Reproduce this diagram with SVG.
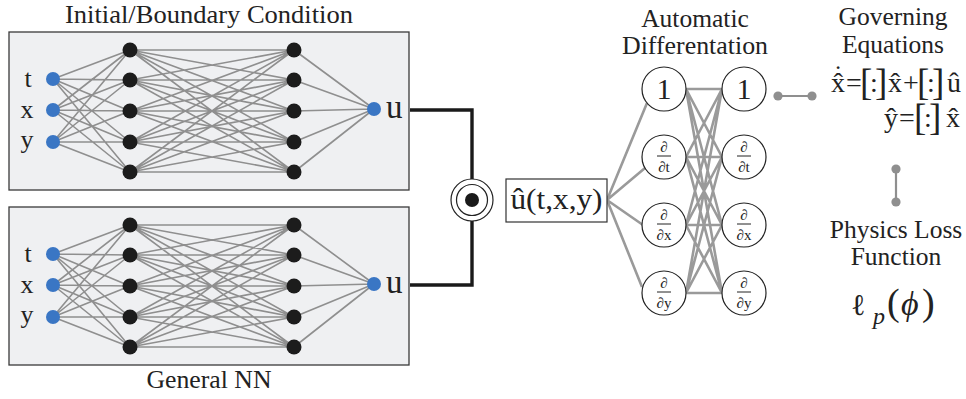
<svg xmlns="http://www.w3.org/2000/svg" width="966" height="399" viewBox="0 0 966 399">
  <style>
    .lbl { font-family: "Liberation Serif", "Times New Roman", serif; fill: #222; }
    .nnbox { fill: #eff0f2; stroke: #3a3a3a; stroke-width: 1.3; }
    .hid { fill: #1c1c1c; }
    .inp { fill: #3a76c4; }
    .nnedge { fill: none; stroke: #8f8f8f; stroke-width: 1.6; }
    .adedge { fill: none; stroke: #9a9a9a; stroke-width: 2.6; }
    .wire { fill: none; stroke: #1a1a1a; stroke-width: 3.4; }
    .adnode { fill: #fff; stroke: #222; stroke-width: 1.2; }
    .bar { stroke: #222; stroke-width: 1; }
    .dumb { stroke: #8f8f8f; stroke-width: 2.2; }
    .knob { fill: #8f8f8f; }
  </style>

  <!-- network boxes (backgrounds) -->
  <g id="nn-boundary-box">
    <rect class="nnbox" x="9" y="32" width="400" height="158"/>
    <text class="lbl" x="209" y="23" font-size="25.5" text-anchor="middle" textLength="288" lengthAdjust="spacingAndGlyphs">Initial/Boundary Condition</text>
  </g>
  <g id="nn-general-box">
    <rect class="nnbox" x="9" y="207" width="400" height="158"/>
    <text class="lbl" x="209" y="388" font-size="25.5" text-anchor="middle" textLength="125" lengthAdjust="spacingAndGlyphs">General NN</text>
  </g>

  <g id="connectors">
    <!-- fully connected layers, upper network -->
    <g id="edges-boundary">
      <path class="nnedge" d="M53 79L130 50M53 79L130 80M53 79L130 111M53 79L130 142M53 79L130 172
        M53 110L130 50M53 110L130 80M53 110L130 111M53 110L130 142M53 110L130 172
        M53 142L130 50M53 142L130 80M53 142L130 111M53 142L130 142M53 142L130 172"/>
      <path class="nnedge" d="M130 50L294 50M130 50L294 80M130 50L294 111M130 50L294 142M130 50L294 172
        M130 80L294 50M130 80L294 80M130 80L294 111M130 80L294 142M130 80L294 172
        M130 111L294 50M130 111L294 80M130 111L294 111M130 111L294 142M130 111L294 172
        M130 142L294 50M130 142L294 80M130 142L294 111M130 142L294 142M130 142L294 172
        M130 172L294 50M130 172L294 80M130 172L294 111M130 172L294 142M130 172L294 172"/>
      <path class="nnedge" d="M294 50L374 109M294 80L374 109M294 111L374 109M294 142L374 109M294 172L374 109"/>
    </g>
    <!-- same topology, lower network -->
    <g id="edges-general" transform="translate(0,175)">
      <path class="nnedge" d="M53 79L130 50M53 79L130 80M53 79L130 111M53 79L130 142M53 79L130 172
        M53 110L130 50M53 110L130 80M53 110L130 111M53 110L130 142M53 110L130 172
        M53 142L130 50M53 142L130 80M53 142L130 111M53 142L130 142M53 142L130 172"/>
      <path class="nnedge" d="M130 50L294 50M130 50L294 80M130 50L294 111M130 50L294 142M130 50L294 172
        M130 80L294 50M130 80L294 80M130 80L294 111M130 80L294 142M130 80L294 172
        M130 111L294 50M130 111L294 80M130 111L294 111M130 111L294 142M130 111L294 172
        M130 142L294 50M130 142L294 80M130 142L294 111M130 142L294 142M130 142L294 172
        M130 172L294 50M130 172L294 80M130 172L294 111M130 172L294 142M130 172L294 172"/>
      <path class="nnedge" d="M294 50L374 109M294 80L374 109M294 111L374 109M294 142L374 109M294 172L374 109"/>
    </g>

    <!-- outputs merged into the product node -->
    <path class="wire" d="M410 110H472V179M472 221V285H410"/>

    <!-- surrogate to derivative operators -->
    <path class="adedge" d="M607 200L647 103M607 200L645 168M607 200L643 225M607 200L642 287"/>

    <!-- derivative operators, all-to-all -->
    <path class="adedge" d="M686 89L722 89M686 89L722 157M686 89L722 225M686 89L722 293
      M686 157L722 89M686 157L722 157M686 157L722 225M686 157L722 293
      M686 225L722 89M686 225L722 157M686 225L722 225M686 225L722 293
      M686 293L722 89M686 293L722 157M686 293L722 225M686 293L722 293"/>

    <!-- links to governing equations and loss -->
    <g id="link-equations">
      <line class="dumb" x1="778" y1="96" x2="812" y2="96"/>
      <circle class="knob" cx="778" cy="96" r="4.6"/>
      <circle class="knob" cx="812" cy="96" r="4.6"/>
    </g>
    <g id="link-loss">
      <line class="dumb" x1="896" y1="169" x2="896" y2="202"/>
      <circle class="knob" cx="896" cy="169" r="4.6"/>
      <circle class="knob" cx="896" cy="202" r="4.6"/>
    </g>
  </g>

  <!-- upper network nodes -->
  <g id="nn-boundary">
    <g id="nnb-in-t"><circle class="inp" cx="53" cy="79" r="7"/><text class="lbl" x="28" y="87" font-size="26" text-anchor="middle">t</text></g>
    <g id="nnb-in-x"><circle class="inp" cx="53" cy="110" r="7"/><text class="lbl" x="27" y="118" font-size="26" text-anchor="middle">x</text></g>
    <g id="nnb-in-y"><circle class="inp" cx="53" cy="142" r="7"/><text class="lbl" x="27" y="148" font-size="26" text-anchor="middle">y</text></g>
    <g id="nnb-h1">
      <circle class="hid" cx="130" cy="50" r="7.5"/><circle class="hid" cx="130" cy="80" r="7.5"/>
      <circle class="hid" cx="130" cy="111" r="7.5"/><circle class="hid" cx="130" cy="142" r="7.5"/>
      <circle class="hid" cx="130" cy="172" r="7.5"/>
    </g>
    <g id="nnb-h2">
      <circle class="hid" cx="294" cy="50" r="7.5"/><circle class="hid" cx="294" cy="80" r="7.5"/>
      <circle class="hid" cx="294" cy="111" r="7.5"/><circle class="hid" cx="294" cy="142" r="7.5"/>
      <circle class="hid" cx="294" cy="172" r="7.5"/>
    </g>
    <g id="nnb-out"><circle class="inp" cx="374" cy="109" r="7"/><text class="lbl" x="386" y="118" font-size="33">u</text></g>
  </g>

  <!-- lower network nodes -->
  <g id="nn-general">
    <g id="nng-in-t"><circle class="inp" cx="53" cy="254" r="7"/><text class="lbl" x="28" y="262" font-size="26" text-anchor="middle">t</text></g>
    <g id="nng-in-x"><circle class="inp" cx="53" cy="285" r="7"/><text class="lbl" x="27" y="293" font-size="26" text-anchor="middle">x</text></g>
    <g id="nng-in-y"><circle class="inp" cx="53" cy="317" r="7"/><text class="lbl" x="27" y="323" font-size="26" text-anchor="middle">y</text></g>
    <g id="nng-h1">
      <circle class="hid" cx="130" cy="225" r="7.5"/><circle class="hid" cx="130" cy="255" r="7.5"/>
      <circle class="hid" cx="130" cy="286" r="7.5"/><circle class="hid" cx="130" cy="317" r="7.5"/>
      <circle class="hid" cx="130" cy="347" r="7.5"/>
    </g>
    <g id="nng-h2">
      <circle class="hid" cx="294" cy="225" r="7.5"/><circle class="hid" cx="294" cy="255" r="7.5"/>
      <circle class="hid" cx="294" cy="286" r="7.5"/><circle class="hid" cx="294" cy="317" r="7.5"/>
      <circle class="hid" cx="294" cy="347" r="7.5"/>
    </g>
    <g id="nng-out"><circle class="inp" cx="374" cy="284" r="7"/><text class="lbl" x="386" y="293" font-size="33">u</text></g>
  </g>

  <!-- element-wise product -->
  <g id="product">
    <circle cx="472" cy="200" r="21" fill="#fff" stroke="#222" stroke-width="1.2"/>
    <circle cx="472" cy="200" r="15.5" fill="#fff" stroke="#222" stroke-width="1.2"/>
    <circle cx="472" cy="200" r="7" fill="#1a1a1a"/>
  </g>

  <!-- surrogate solution -->
  <g id="surrogate">
    <rect x="506" y="179" width="101" height="43" fill="#fff" stroke="#333" stroke-width="1.2"/>
    <text class="lbl" x="556.5" y="209" font-size="30" text-anchor="middle" textLength="92" lengthAdjust="spacingAndGlyphs">û(t,x,y)</text>
  </g>

  <!-- automatic differentiation -->
  <g id="autodiff">
    <text class="lbl" x="695" y="27" font-size="25.5" text-anchor="middle">Automatic</text>
    <text class="lbl" x="695" y="54" font-size="25.5" text-anchor="middle" textLength="146" lengthAdjust="spacingAndGlyphs">Differentation</text>

    <g id="ad-l-1"><circle class="adnode" cx="664" cy="89" r="22"/><text class="lbl" x="664" y="99" font-size="30" text-anchor="middle">1</text></g>
    <g id="ad-l-t"><circle class="adnode" cx="664" cy="157" r="22"/>
      <text class="lbl" x="664" y="152" font-size="15" text-anchor="middle">∂</text><line class="bar" x1="657" y1="156" x2="671" y2="156"/>
      <text class="lbl" x="664" y="172" font-size="15" text-anchor="middle">∂t</text></g>
    <g id="ad-l-x"><circle class="adnode" cx="664" cy="225" r="22"/>
      <text class="lbl" x="664" y="220" font-size="15" text-anchor="middle">∂</text><line class="bar" x1="657" y1="224" x2="671" y2="224"/>
      <text class="lbl" x="664" y="240" font-size="15" text-anchor="middle">∂x</text></g>
    <g id="ad-l-y"><circle class="adnode" cx="664" cy="293" r="22"/>
      <text class="lbl" x="664" y="288" font-size="15" text-anchor="middle">∂</text><line class="bar" x1="657" y1="292" x2="671" y2="292"/>
      <text class="lbl" x="664" y="308" font-size="15" text-anchor="middle">∂y</text></g>

    <g id="ad-r-1"><circle class="adnode" cx="744" cy="89" r="22"/><text class="lbl" x="744" y="99" font-size="30" text-anchor="middle">1</text></g>
    <g id="ad-r-t"><circle class="adnode" cx="744" cy="157" r="22"/>
      <text class="lbl" x="744" y="152" font-size="15" text-anchor="middle">∂</text><line class="bar" x1="737" y1="156" x2="751" y2="156"/>
      <text class="lbl" x="744" y="172" font-size="15" text-anchor="middle">∂t</text></g>
    <g id="ad-r-x"><circle class="adnode" cx="744" cy="225" r="22"/>
      <text class="lbl" x="744" y="220" font-size="15" text-anchor="middle">∂</text><line class="bar" x1="737" y1="224" x2="751" y2="224"/>
      <text class="lbl" x="744" y="240" font-size="15" text-anchor="middle">∂x</text></g>
    <g id="ad-r-y"><circle class="adnode" cx="744" cy="293" r="22"/>
      <text class="lbl" x="744" y="288" font-size="15" text-anchor="middle">∂</text><line class="bar" x1="737" y1="292" x2="751" y2="292"/>
      <text class="lbl" x="744" y="308" font-size="15" text-anchor="middle">∂y</text></g>
  </g>

  <!-- governing equations -->
  <g id="equations">
    <text class="lbl" x="893" y="25" font-size="25.5" text-anchor="middle">Governing</text>
    <text class="lbl" x="893" y="53" font-size="25.5" text-anchor="middle">Equations</text>
    <text class="lbl" x="838" y="83" font-size="26" text-anchor="middle">˙</text>
    <text class="lbl" y="92" font-size="28"><tspan x="831">x̂</tspan><tspan x="846">=</tspan><tspan x="860" font-size="37" dy="3">[</tspan><tspan x="870" dy="-3">:</tspan><tspan x="875" font-size="37" dy="3">]</tspan><tspan x="888" dy="-3">x̂</tspan><tspan x="903">+</tspan><tspan x="917" font-size="37" dy="3">[</tspan><tspan x="927" dy="-3">:</tspan><tspan x="932" font-size="37" dy="3">]</tspan><tspan x="947" dy="-3">û</tspan></text>
    <text class="lbl" y="127" font-size="28"><tspan x="884">ŷ</tspan><tspan x="899">=</tspan><tspan x="914" font-size="37" dy="3">[</tspan><tspan x="924" dy="-3">:</tspan><tspan x="929" font-size="37" dy="3">]</tspan><tspan x="946" dy="-3">x̂</tspan></text>
  </g>

  <!-- physics loss -->
  <g id="loss">
    <text class="lbl" x="896" y="238" font-size="25.5" text-anchor="middle">Physics Loss</text>
    <text class="lbl" x="896" y="265" font-size="25.5" text-anchor="middle">Function</text>
    <text class="lbl" y="315" font-size="30"><tspan x="851">ℓ</tspan><tspan x="873" y="324" font-size="24" font-style="italic">p</tspan><tspan x="887" y="315" font-size="38">(</tspan><tspan x="901" font-size="34" font-style="italic">ϕ</tspan><tspan x="922" font-size="38">)</tspan></text>
  </g>
</svg>
